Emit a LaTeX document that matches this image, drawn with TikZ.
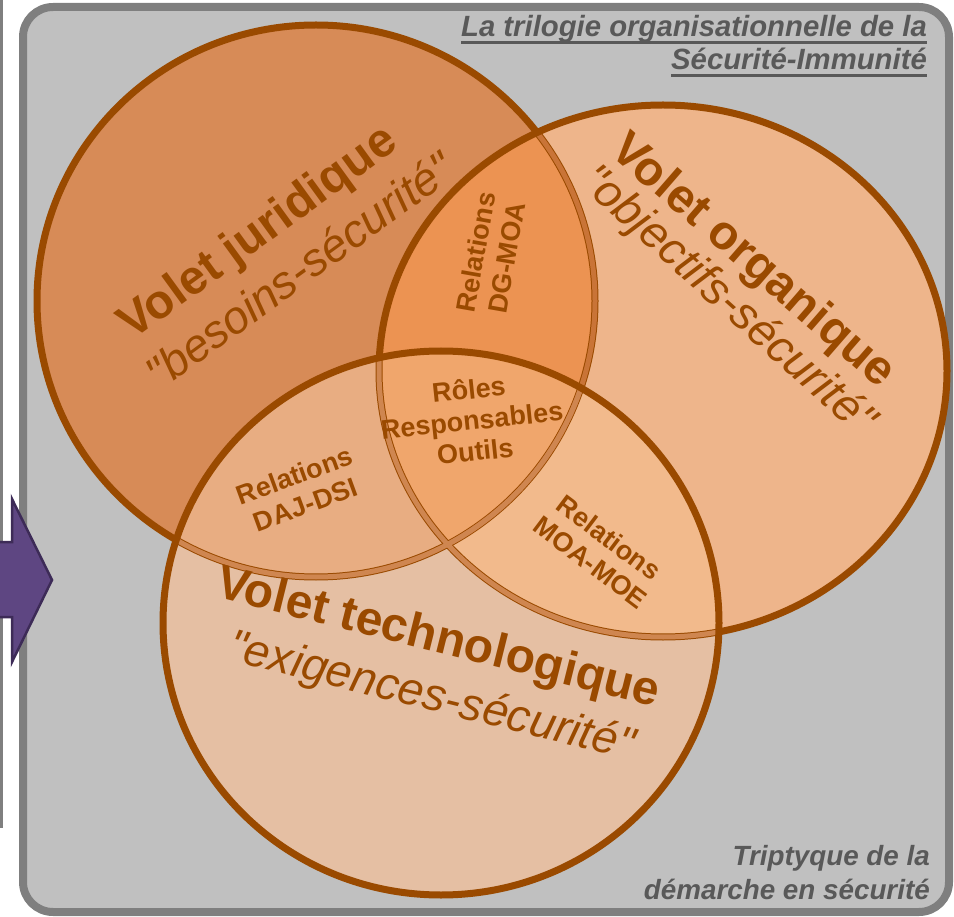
\documentclass[tikz,border=0pt]{standalone}
\usepackage{fontspec}
\setmainfont{Liberation Sans}[Ligatures=TeXOff]
\definecolor{bggray}{HTML}{C0C0C0}
\definecolor{bordergray}{HTML}{7F7F7F}
\definecolor{textgray}{HTML}{595959}
\definecolor{stroke}{HTML}{9A4A00}
\definecolor{cJ}{HTML}{D78B57}
\definecolor{cO}{HTML}{EEB58B}
\definecolor{cT}{HTML}{E5BFA3}
\definecolor{cJO}{HTML}{EC9352}
\definecolor{cJT}{HTML}{E8AD82}
\definecolor{cOT}{HTML}{F2BA8C}
\definecolor{cJOT}{HTML}{F0A66C}
\definecolor{lightO}{HTML}{C97437}
\definecolor{lightT}{HTML}{CF8650}
\definecolor{purplefill}{HTML}{5E4682}
\definecolor{purpleline}{HTML}{3D2B57}
\newcommand\ulline[1]{\setbox0\hbox{#1}\rlap{\raisebox{-7pt}{\rule{\wd0}{2.5pt}}}\box0}
\begin{document}
\begin{tikzpicture}[x=1pt,y=-1pt,
  ring/.style={draw=stroke, line width=7pt},
  ringO/.style={draw=lightO, line width=5pt},
  ringT/.style={draw=lightT, line width=5pt},
  voltitle/.style={inner sep=0pt, text=stroke, font=\fontsize{48}{52}\selectfont\bfseries},
  volquote/.style={inner sep=0pt, text=stroke, font=\fontsize{46}{50}\selectfont\itshape},
  rel/.style={inner sep=0pt, text=stroke, align=center, font=\fontsize{27}{31}\selectfont\bfseries},
  corner/.style={inner sep=0pt, text=textgray, anchor=base east, font=\fontsize{29.3}{34}\selectfont\bfseries\itshape},
  cornerb/.style={corner, font=\fontsize{27.8}{33}\selectfont\bfseries\itshape}]
\useasboundingbox (0,0) rectangle (954,917);
% left panel edge
\draw[bordergray, line width=3pt] (1.5,-2) -- (1.5,828);
% main panel
\draw[bordergray, fill=bggray, line width=8pt, rounded corners=30pt] (23,7) rectangle (949,912);
% arrow
\draw[purpleline, fill=purplefill, line width=2.5pt, line join=miter]
  (-6,542) -- (12,542) -- (12,499) -- (52,580) -- (12,662) -- (12,617) -- (-6,617) -- cycle;
% circles
\def\Jp{(316,301) ellipse [x radius=279pt, y radius=276pt]}
\def\Op{(663,371) ellipse [x radius=284pt, y radius=266pt]}
\def\Tp{(441,623) ellipse [x radius=278pt, y radius=272pt]}
\fill[cJ] \Jp;
\fill[cO] \Op;
\fill[cT] \Tp;
\begin{scope}\clip \Jp; \fill[cJO] \Op; \fill[cJT] \Tp; \end{scope}
\begin{scope}\clip \Op; \fill[cOT] \Tp; \end{scope}
\begin{scope}\clip \Jp; \clip \Op; \fill[cJOT] \Tp; \end{scope}
\draw[ring] \Jp;
\begin{scope}\clip \Op; \draw[ringO] \Jp; \end{scope}
\draw[ring] \Op;
\begin{scope}\clip \Tp; \draw[ringT] \Jp; \draw[ringT] \Op; \end{scope}
\draw[ring] \Tp;
% circle texts
\node[voltitle, rotate=36] (jt) at (259,234) {Volet juridique};
\node[volquote, rotate=36] (jq) at (299,270) {"besoins-sécurité"};
\node[voltitle, rotate=-41] (ot) at (752,262) {Volet organique};
\node[volquote, rotate=-42] (oq) at (727,302) {"objectifs-sécurité"};
\node[voltitle, rotate=-14] (tt) at (438,640) {Volet technologique};
\node[volquote, rotate=-14] (tq) at (431,698) {"exigences-sécurité"};
% relation labels
\node[rel, rotate=80] (dgmoa) at (491,255) {Relations\\DG-MOA};
\node[rel, rotate=6] (roles) at (472,420) {Rôles\\Responsables\\Outils};
\node[rel, rotate=20] (dajdsi) at (300,490) {Relations\\DAJ-DSI};
\node[rel, rotate=-37] (moamoe) at (600,550) {Relations\\MOA-MOE};
% corner texts
\node[corner] (title1) at (927,37) {\ulline{La trilogie organisationnelle de la}};
\node[corner] (title2) at (927,70) {\ulline{Sécurité-Immunité}};
\node[cornerb] (foot1) at (930,865) {Triptyque de la};
\node[cornerb] (foot2) at (930,899) {démarche en sécurité};
\end{tikzpicture}
\end{document}
